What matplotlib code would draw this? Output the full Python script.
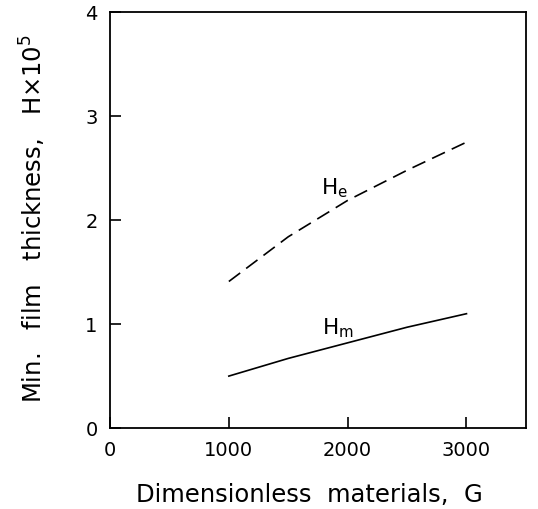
import matplotlib
matplotlib.use("Agg")
import matplotlib.pyplot as plt

# data
G = [1000, 1500, 2000, 2500, 3000]
He = [1.41, 1.84, 2.19, 2.48, 2.75]
Hm = [0.50, 0.67, 0.82, 0.97, 1.10]

x_ticks = [0, 1000, 2000, 3000]
y_ticks = [0, 1, 2, 3, 4]

plt.rcParams['font.family'] = ['DejaVu Sans']

fig = plt.figure(figsize=(5.38, 5.09), dpi=100)
ax = fig.add_axes([0.2045, 0.159, 0.773, 0.817])

ax.plot(G, He, color='black', lw=1.2, dashes=(8.5, 4.5))
ax.plot(G, Hm, color='black', lw=1.2)

ax.text(1890, 2.31, r'H$_\mathregular{e}$', fontsize=15.5, ha='center', va='center')
ax.text(1920, 0.96, r'H$_\mathregular{m}$', fontsize=15.5, ha='center', va='center')

ax.set_xlim(0, 3500)
ax.set_ylim(0, 4)
ax.set_xticks(x_ticks)
ax.set_yticks(y_ticks)
ax.tick_params(direction='in', length=8, width=1.2, labelsize=14, pad=9)
for s in ax.spines.values():
    s.set_linewidth(1.3)

ax.set_xlabel('Dimensionless  materials,  G', fontsize=17.5)
ax.set_ylabel(r'Min.   film   thickness,   H$\times$10$^5$', fontsize=17.5)
ax.xaxis.set_label_coords(0.48, -0.133)
ax.yaxis.set_label_coords(-0.15, 0.505)

fig.savefig('out.png', dpi=100)
